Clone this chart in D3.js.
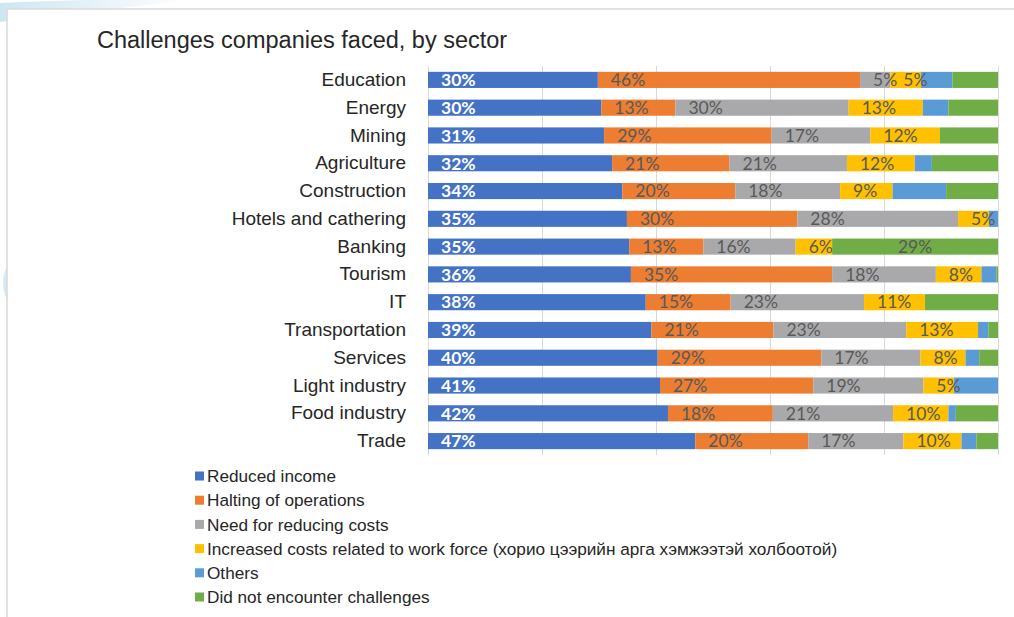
<!DOCTYPE html>
<html>
<head>
<meta charset="utf-8">
<script src="https://cdn.jsdelivr.net/npm/d3@7"></script>
<style>
  html, body { margin: 0; padding: 0; background: #fff; }
  svg { display: block; }
</style>
</head>
<body>
<svg id="chart" width="1014" height="617"></svg>
<script>
// Sectors, top to bottom
const categories = ["Education", "Energy", "Mining", "Agriculture", "Construction",
  "Hotels and cathering", "Banking", "Tourism", "IT", "Transportation", "Services",
  "Light industry", "Food industry", "Trade"];

// Share of companies (%) per challenge, one value per sector
const reducedIncome  = [29.8, 30.4, 30.9, 32.3, 34.1, 34.9, 35.3, 35.6, 38.2, 39.2, 40.3, 40.7, 42.1, 46.9];
const haltingOps     = [46.0, 13.0, 29.4, 20.6, 19.8, 29.9, 13.0, 35.3, 14.9, 21.4, 28.7, 26.9, 18.4, 19.8];
const reducingCosts  = [5.3, 30.4, 17.3, 20.6, 18.4, 28.2, 16.2, 18.2, 23.4, 23.3, 17.4, 19.3, 21.1, 16.7];
const workforceCosts = [5.4, 13.0, 12.2, 11.9, 9.2, 5.4, 6.4, 8.0, 10.7, 12.6, 7.9, 5.4, 9.7, 10.2];
const others         = [5.5, 4.5, 0, 3.0, 9.4, 1.6, 0, 2.6, 0, 1.8, 2.4, 7.7, 1.3, 2.6];
const noChallenges   = [8.0, 8.7, 10.2, 11.6, 9.1, 0, 29.1, 0.3, 12.8, 1.7, 3.3, 0, 7.4, 3.8];

const seriesNames = [
  "Reduced income",
  "Halting of operations",
  "Need for reducing costs",
  "Increased costs related to work force (хорио цээрийн арга хэмжээтэй холбоотой)",
  "Others",
  "Did not encounter challenges"
];
const seriesColors = ["#4472C4", "#ED7D31", "#A9A9AB", "#FFC000", "#5B9BD5", "#70AD47"];
const xTicks = [0, 20, 40, 60, 80, 100];

const seriesValues = [reducedIncome, haltingOps, reducingCosts, workforceCosts, others, noChallenges];
const keys = seriesNames.map((_, i) => "s" + i);
const table = categories.map((c, r) => {
  const row = { category: c };
  keys.forEach((k, i) => row[k] = seriesValues[i][r]);
  return row;
});

const svg = d3.select("#chart");

// Slide backdrop: soft blue swoosh and the chart frame
const defs = svg.append("defs");
const grad = defs.append("linearGradient").attr("id", "swoosh")
  .attr("x1", "0%").attr("x2", "100%").attr("y1", "0%").attr("y2", "0%");
grad.append("stop").attr("offset", "0%").attr("stop-color", "#cde6f2");
grad.append("stop").attr("offset", "100%").attr("stop-color", "#ffffff");
svg.append("path")
  .attr("d", "M0,3 C60,0 120,-1 190,0 L0,22 Z")
  .attr("fill", "url(#swoosh)");
svg.append("path")
  .attr("d", "M7,266 Q-1,283 7,300 Z")
  .attr("fill", "#d4eaf4");
svg.append("rect")
  .attr("x", 7).attr("y", 9).attr("width", 1020).attr("height", 620)
  .attr("fill", "#fff").attr("stroke", "#d9d9d9").attr("stroke-width", 1.5);

// Title
svg.append("text")
  .attr("x", 97).attr("y", 48)
  .attr("font-family", "Liberation Sans, Arial, sans-serif")
  .attr("font-size", 23.5)
  .attr("fill", "#262626")
  .text("Challenges companies faced, by sector");

// Scales
const x = d3.scaleLinear().domain([0, 100]).range([428, 998]);
const y = d3.scaleBand().domain(categories).range([66, 455]).paddingInner(0.42).paddingOuter(0.21);

// Vertical gridlines
svg.append("g")
  .attr("transform", "translate(0,455)")
  .call(d3.axisBottom(x).tickValues(xTicks).tickSize(-(455 - 66)).tickFormat(""))
  .call(g => g.select(".domain").remove())
  .call(g => g.selectAll(".tick line").attr("stroke", "#d9d9d9").attr("stroke-width", 1));

// Category axis
svg.append("g")
  .attr("transform", "translate(428,0)")
  .call(d3.axisLeft(y).tickSize(0).tickPadding(22))
  .call(g => g.select(".domain").attr("stroke", "#d9d9d9"))
  .call(g => g.selectAll(".tick text")
    .attr("font-family", "Liberation Sans, Arial, sans-serif")
    .attr("font-size", 19)
    .attr("fill", "#262626"));

// Stacked bars
const stacked = d3.stack().keys(keys)(table);
const layers = svg.append("g").selectAll("g")
  .data(stacked)
  .join("g")
  .attr("fill", (d, i) => seriesColors[i]);

layers.selectAll("rect")
  .data(d => d.map(p => ({ p, cat: p.data.category })))
  .join("rect")
  .attr("x", d => x(d.p[0]))
  .attr("y", d => y(d.cat))
  .attr("width", d => Math.max(0, x(d.p[1]) - x(d.p[0])))
  .attr("height", y.bandwidth());

// Value labels: sit inside the base of each segment; a large final segment is centred
const labels = svg.append("g")
  .attr("font-family", "Lato, sans-serif")
  .attr("font-size", 17.5);
stacked.forEach((layer, si) => {
  layer.forEach(p => {
    const v = p[1] - p[0];
    if (v <= 0) return;
    let mode = null;
    if (si <= 3) mode = "base";
    else if (si === 5 && v >= 20) mode = "center";
    if (!mode) return;
    labels.append("text")
      .attr("x", mode === "base" ? x(p[0]) + 13 : (x(p[0]) + x(p[1])) / 2)
      .attr("y", y(p.data.category) + y.bandwidth() / 2)
      .attr("dy", "0.36em")
      .attr("text-anchor", mode === "base" ? "start" : "middle")
      .attr("fill", si === 0 ? "#ffffff" : "#595959")
      .attr("font-weight", si === 0 ? "bold" : "normal")
      .text(Math.round(v) + "%");
  });
});

// Legend
const legend = svg.append("g")
  .attr("font-family", "Liberation Sans, Arial, sans-serif")
  .attr("font-size", 17.2)
  .attr("fill", "#262626");
seriesNames.forEach((name, i) => {
  const cy = 476 + i * 24.2;
  legend.append("rect")
    .attr("x", 195).attr("y", cy - 4.5).attr("width", 9).attr("height", 9)
    .attr("fill", seriesColors[i]);
  legend.append("text")
    .attr("x", 207).attr("y", cy).attr("dy", "0.36em")
    .text(name);
});
</script>
</body>
</html>
